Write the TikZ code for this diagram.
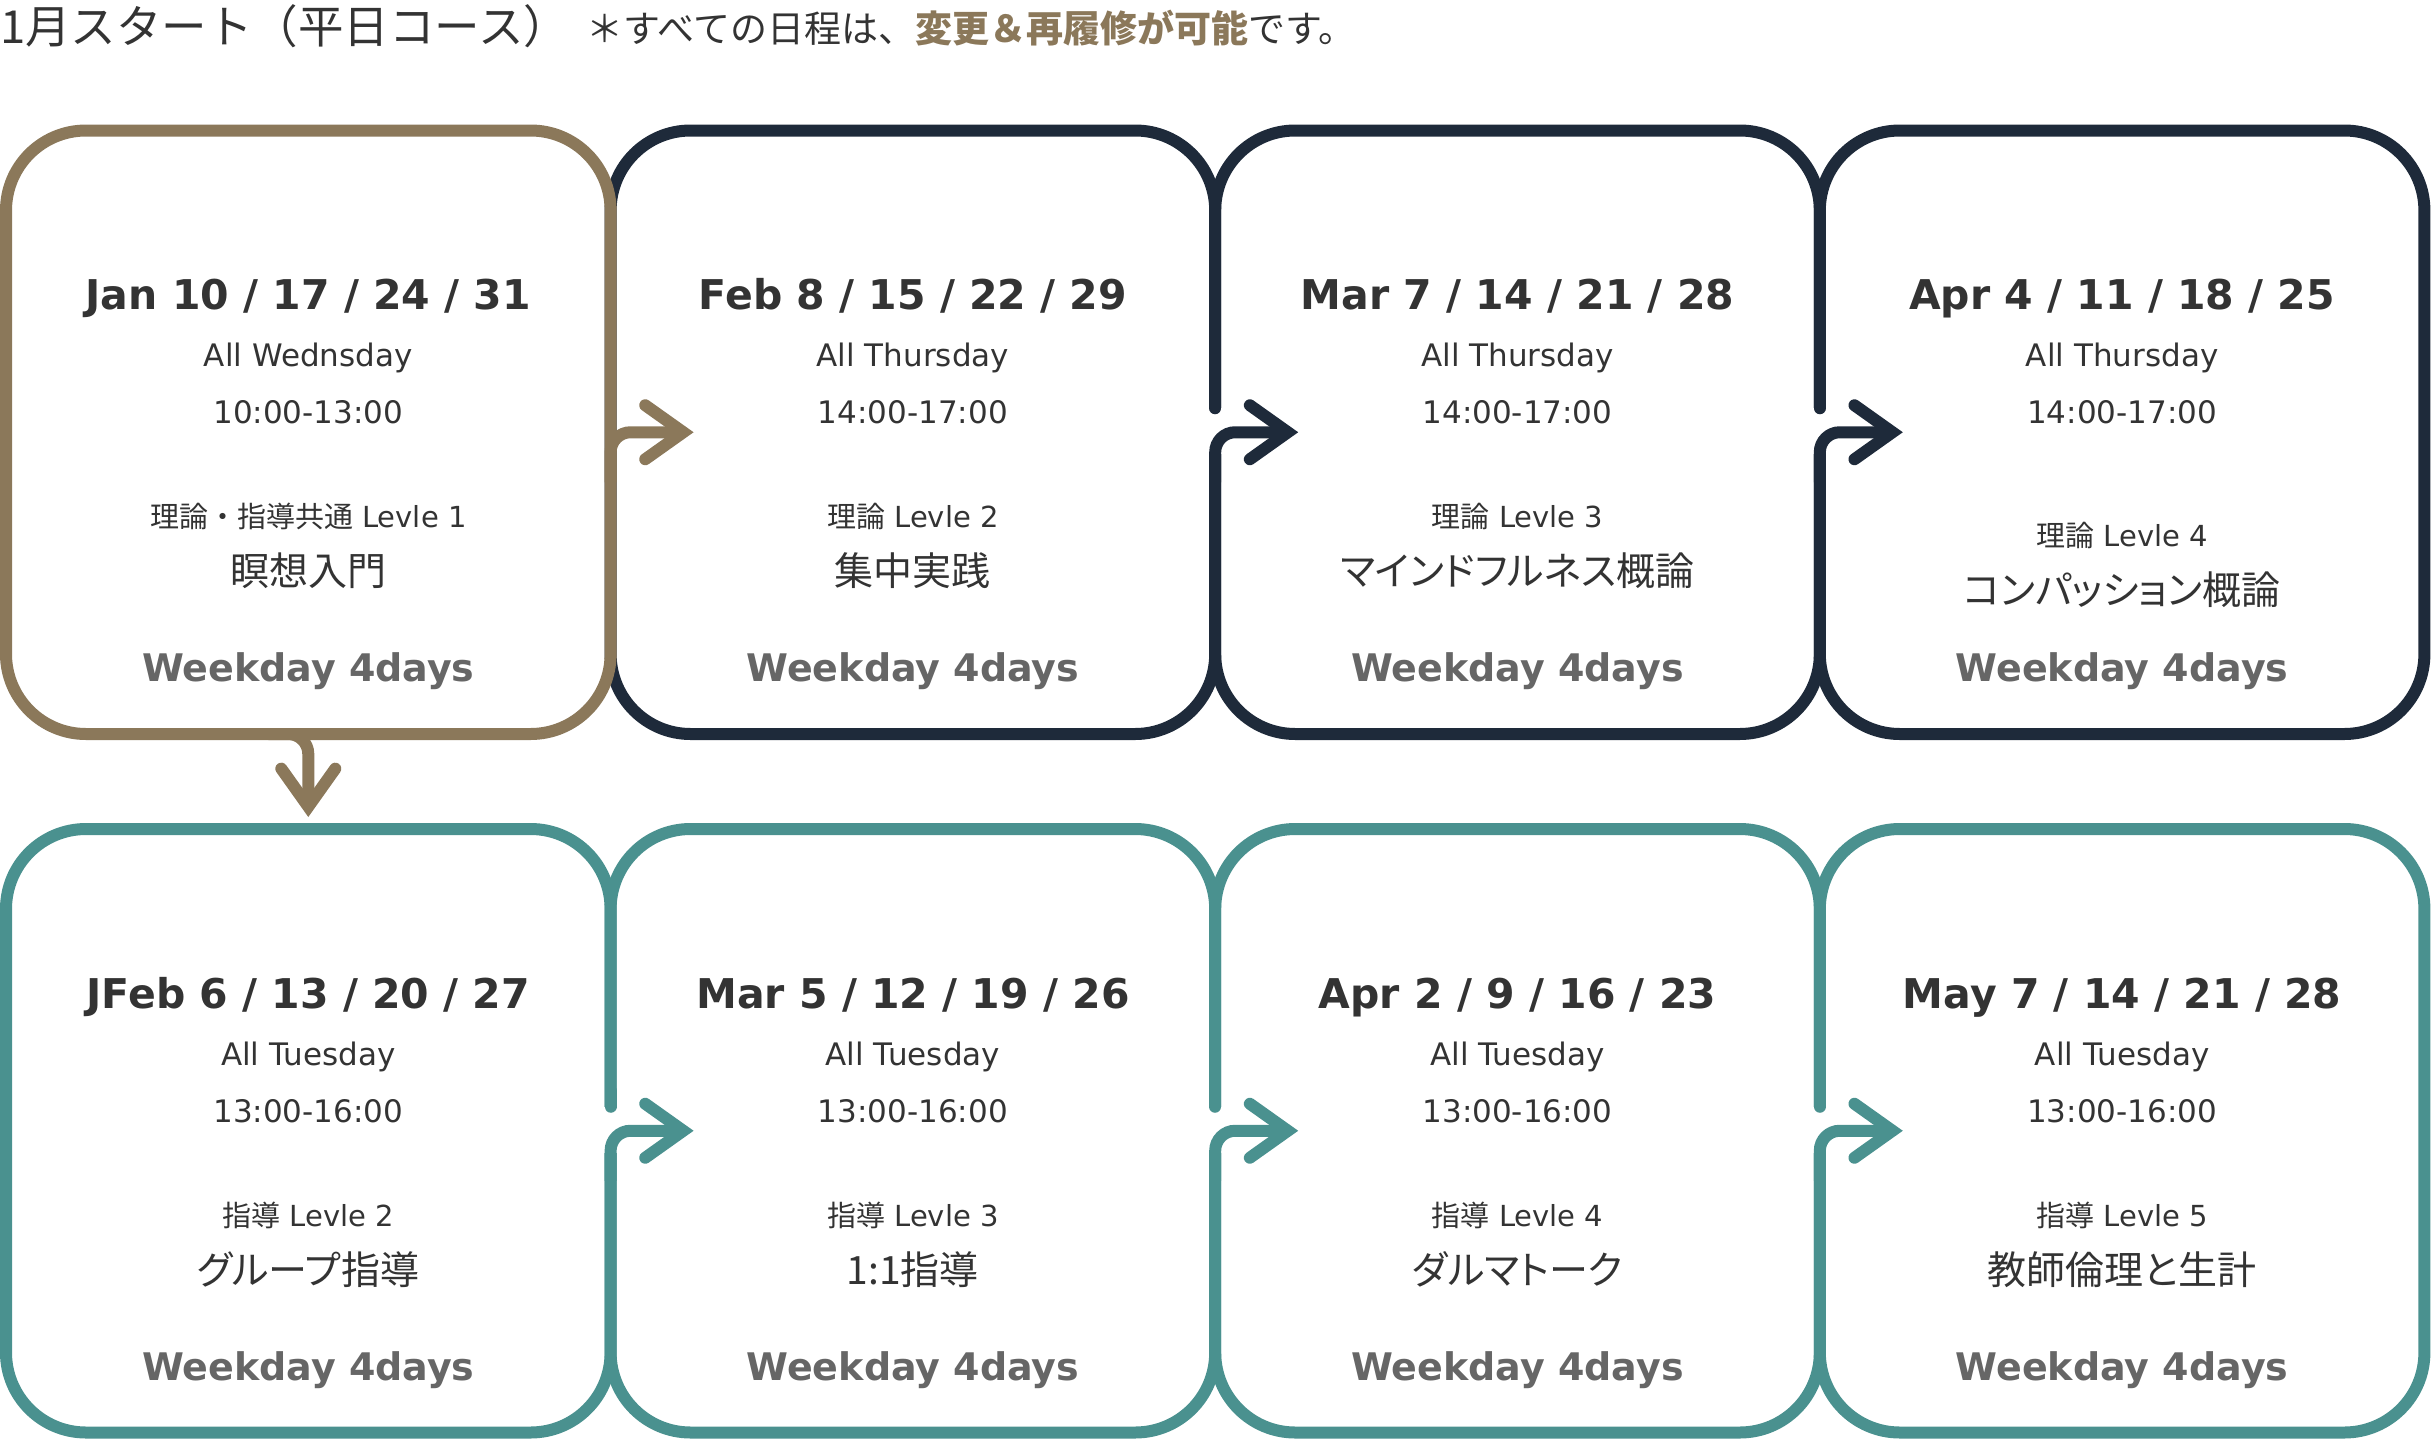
\documentclass[tikz,border=0pt]{standalone}
\usepackage{fontspec}
\setmainfont{DejaVu Sans}
\newfontfamily\jpfont{Noto Sans CJK JP}
\newfontfamily\jppfont[RawFeature=+palt]{Noto Sans CJK JP}
\usepackage{xcolor}
\usepackage{tikz}
\usetikzlibrary{arrows.meta, positioning, calc, backgrounds}

\definecolor{tanc}{HTML}{8B785A}
\definecolor{navy}{HTML}{1E2A3A}
\definecolor{tealc}{HTML}{4A918F}
\definecolor{inkc}{HTML}{333333}
\definecolor{grayc}{HTML}{666666}

\tikzset{
  card/.style={rectangle, rounded corners=80pt, line width=12pt,
               minimum width=604.6pt, minimum height=603.5pt,
               outer sep=0pt, inner sep=0pt},
  flow/.style={line width=12pt, rounded corners=20pt,
               -{Straight Barb[length=38pt, width=54pt, line cap=round, line join=miter]}},
  stub/.style={line width=12pt, line cap=round},
  headtxt/.style={anchor=west, inner sep=0pt, text=inkc,
                  font=\jpfont\fontsize{45.5}{52}\selectfont},
  notetxt/.style={anchor=west, inner sep=0pt, text=inkc,
                  font=\jpfont\fontsize{37}{44}\selectfont},
  datetxt/.style={anchor=base, inner sep=0pt, text=inkc,
                  font=\bfseries\fontsize{41}{48}\selectfont},
  daytxt/.style={anchor=base, inner sep=0pt, text=inkc,
                 font=\fontsize{31}{36}\selectfont},
  leveltxt/.style={anchor=base, inner sep=0pt, text=inkc,
                   font=\fontsize{29}{34}\selectfont},
  titletxt/.style={anchor=base, inner sep=0pt, text=inkc,
                   font=\jppfont\fontsize{39}{46}\selectfont},
  weektxt/.style={anchor=base, inner sep=0pt, text=grayc,
                  font=\bfseries\fontsize{38}{44}\selectfont},
}

% card contents: name, dates, day, time, level kind, level no., title, shift
\newcommand{\cardtext}[8]{%
  \node[datetxt] (#1-date) at ($(#1.north)+(0,179)$) {#2};
  \node[daytxt] (#1-day) at ($(#1.north)+(0,236)$) {#3};
  \node[daytxt] (#1-time) at ($(#1.north)+(0,293)$) {#4};
  \node[leveltxt] (#1-level) at ($(#1.north)+(0,397+#8)$) {{\jpfont #5} Levle #6};
  \node[titletxt] (#1-title) at ($(#1.north)+(0,455+#8)$) {#7};
  \node[weektxt] (#1-week) at ($(#1.north)+(0,551)$) {Weekday 4days};
}

\begin{document}
\begin{tikzpicture}[x=1pt, y=-1pt]
  \useasboundingbox (0,0) rectangle (2431,1440);

  \node[headtxt] (head) at (0,26) {1月スタート（平日コース）};
  \node[notetxt] (note) at (586,28) {＊すべての日程は、{\bfseries\color{tanc}変更＆再履修が可能}です。};

  % top row
  \node[card, draw=tanc] (b1) at (308.3,432.25) {};
  \begin{scope}[on background layer]
    \node[card, draw=navy, right=0pt of b1] (b2) {};
    \node[card, draw=navy, right=0pt of b2] (b3) {};
    \node[card, draw=navy, right=0pt of b3] (b4) {};
  \end{scope}

  % bottom row
  \node[card, draw=tealc, below=95pt of b1] (b5) {};
  \node[card, draw=tealc, right=0pt of b5] (b6) {};
  \node[card, draw=tealc, right=0pt of b6] (b7) {};
  \node[card, draw=tealc, right=0pt of b7] (b8) {};

  % arrows
  \draw[flow, tanc] ($(b1.east)+(0,50)$) |- ($(b1.east)+(83,0)$);
  \draw[flow, tanc] ($(b1.south)+(-40,0)$) -| ($(b1.south)+(0,83)$);
  \foreach \b/\c in {b2/navy, b3/navy, b5/tealc, b6/tealc, b7/tealc} {
    \fill[white] ($(\b.east)+(-9,-24)$) rectangle ($(\b.east)+(9,22)$);
    \draw[stub, \c] ($(\b.east)+(0,-40)$) -- ($(\b.east)+(0,-24)$);
    \draw[flow, \c] ($(\b.east)+(0,50)$) |- ($(\b.east)+(83,0)$);
  }

  \cardtext{b1}{Jan 10 / 17 / 24 / 31}{All Wednsday}{10:00-13:00}{理論・指導共通}{1}{瞑想入門}{0}
  \cardtext{b2}{Feb 8 / 15 / 22 / 29}{All Thursday}{14:00-17:00}{理論}{2}{集中実践}{0}
  \cardtext{b3}{Mar 7 / 14 / 21 / 28}{All Thursday}{14:00-17:00}{理論}{3}{マインドフルネス概論}{0}
  \cardtext{b4}{Apr 4 / 11 / 18 / 25}{All Thursday}{14:00-17:00}{理論}{4}{コンパッション概論}{19}
  \cardtext{b5}{JFeb 6 / 13 / 20 / 27}{All Tuesday}{13:00-16:00}{指導}{2}{グループ指導}{0}
  \cardtext{b6}{Mar 5 / 12 / 19 / 26}{All Tuesday}{13:00-16:00}{指導}{3}{1:1指導}{0}
  \cardtext{b7}{Apr 2 / 9 / 16 / 23}{All Tuesday}{13:00-16:00}{指導}{4}{ダルマトーク}{0}
  \cardtext{b8}{May 7 / 14 / 21 / 28}{All Tuesday}{13:00-16:00}{指導}{5}{教師倫理と生計}{0}
\end{tikzpicture}
\end{document}
